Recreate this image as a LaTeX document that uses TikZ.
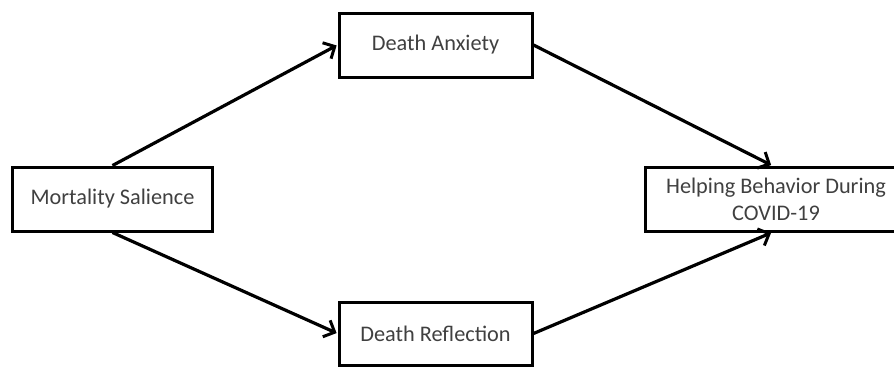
\documentclass[tikz,border=0pt]{standalone}
\usepackage{fontspec}
\setmainfont{Carlito}
\usetikzlibrary{arrows.meta}
\begin{document}
\begin{tikzpicture}[x=1bp,y=-1bp,
  box/.style={draw=black, line width=3bp, fill=white, inner sep=0pt, text=black!75,
    font=\fontsize{22.3bp}{27bp}\selectfont, align=center},
  conn/.style={line width=3.2bp, -{Straight Barb[length=9bp,width=18bp,line width=3bp]}, shorten >=1bp}]
\useasboundingbox (0,0) rectangle (894,367);
\clip (0,0) rectangle (894,367);
\fill[white] (0,0) rectangle (894,367);
\node[box, minimum width=199bp, minimum height=64bp] (ms) at (112.5,199) {Mortality Salience};
\node[box, minimum width=193bp, minimum height=64bp] (da) at (435.5,45) {Death Anxiety};
\node[box, minimum width=193bp, minimum height=63bp] (dr) at (435.5,333.5) {Death Reflection};
\node[box, minimum width=262bp, minimum height=64bp] (hb) at (776,199) {Helping Behavior During\\COVID-19};
\draw[conn] (ms.north) -- (da.west);
\draw[conn] (ms.south) -- (dr.west);
\draw[conn] (da.east) -- ([xshift=-4bp]hb.north);
\draw[conn] (dr.east) -- ([xshift=-4bp]hb.south);
\end{tikzpicture}
\end{document}
